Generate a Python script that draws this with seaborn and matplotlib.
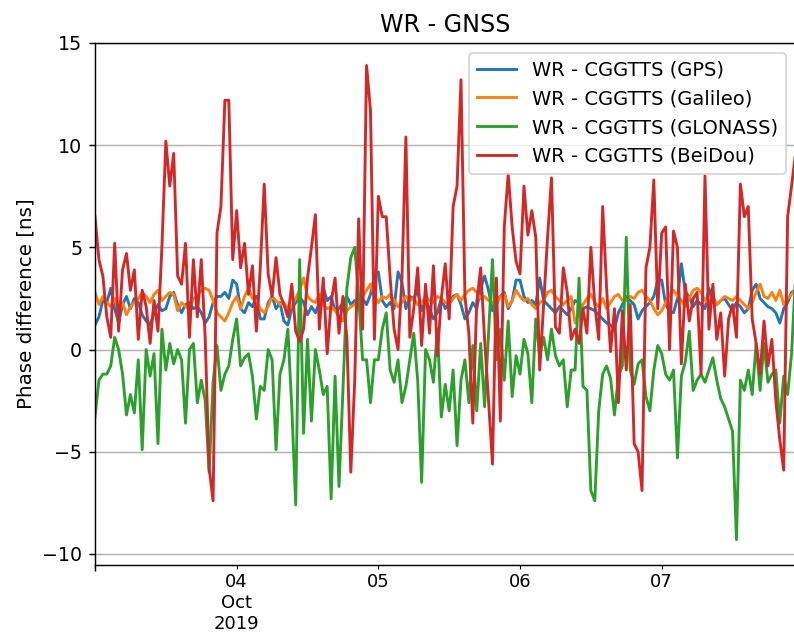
import numpy as np
import pandas as pd
import matplotlib
matplotlib.use("Agg")
import matplotlib.pyplot as plt
import matplotlib.dates as mdates
import seaborn as sns

start = "2019-10-03 00:00"
n_points = 179
step = "40min"

series_names = ["WR - CGGTTS (GPS)", "WR - CGGTTS (Galileo)",
                "WR - CGGTTS (GLONASS)", "WR - CGGTTS (BeiDou)"]
colors = ["#1f77b4", "#ff7f0e", "#2ca02c", "#d62728"]

gps = [1.2,1.6,2.4,2.3,3.0,2.0,1.3,2.2,2.6,2.0,2.5,2.3,1.7,1.4,1.2,1.8,2.2,1.9,2.0,2.6,2.8,2.2,1.8,2.2,2.3,2.0,2.1,1.8,1.3,1.6,2.3,2.6,2.6,2.8,2.5,3.4,
       3.2,2.0,1.8,2.3,2.1,2.6,1.5,1.5,2.3,2.6,2.0,2.3,1.4,1.2,2.0,2.3,2.6,2.3,1.7,2.1,1.8,2.3,3.0,2.4,2.6,1.9,2.0,2.3,2.6,2.2,2.4,2.0,2.5,2.2,2.7,3.6,
       3.8,2.4,2.1,2.3,2.0,3.8,3.3,2.0,2.6,2.5,2.9,1.9,2.4,2.0,1.5,1.8,2.5,2.0,2.3,2.6,2.7,2.2,1.5,1.8,2.3,2.0,3.0,3.6,2.9,1.9,2.4,2.6,2.8,2.0,2.4,3.4,
       3.4,2.6,2.3,2.4,2.2,3.5,2.4,2.2,2.0,1.8,2.1,1.9,1.7,2.0,2.4,2.3,2.0,2.1,2.0,1.9,1.7,1.5,1.3,1.2,1.0,1.8,2.2,2.6,2.4,2.2,1.5,1.9,2.1,2.3,2.6,3.4,
       3.4,2.2,1.9,1.8,2.5,4.2,2.8,2.6,2.1,2.4,2.2,2.0,3.0,2.3,2.2,2.4,2.5,2.2,1.9,2.3,2.1,1.8,2.0,2.9,3.2,2.5,2.3,2.1,2.0,1.8,1.3,2.0,2.3,2.8,2.9]

galileo = [2.8,2.2,2.6,2.3,2.1,2.5,1.9,2.3,1.7,2.1,2.3,2.5,2.8,2.6,2.3,2.7,2.9,2.4,2.6,2.8,2.7,1.9,2.3,2.1,2.0,2.5,2.6,2.9,3.0,2.9,2.4,1.8,1.6,1.4,1.8,2.3,
           2.6,2.0,2.6,3.0,2.5,2.4,2.0,1.8,2.1,2.6,2.4,2.2,2.3,2.0,2.1,2.5,2.9,3.5,2.6,2.4,2.3,2.7,2.2,2.0,2.1,1.9,1.6,1.4,1.9,2.1,2.2,2.5,2.6,2.9,3.2,2.6,
           2.3,2.6,2.5,2.7,2.4,2.1,2.3,2.6,2.4,2.5,2.2,2.3,2.6,2.4,2.3,2.6,2.5,2.3,2.2,2.5,2.7,2.4,2.7,2.9,3.0,2.8,2.5,2.6,2.4,2.3,2.2,2.6,2.7,2.1,2.4,2.9,
           2.6,2.4,2.5,2.2,2.0,2.3,2.4,2.8,2.9,2.6,2.4,2.2,2.4,2.6,1.3,1.8,2.2,2.5,2.7,2.3,2.1,2.5,2.0,2.3,2.6,2.7,2.4,2.4,2.6,2.5,2.8,2.9,2.6,2.4,2.0,1.7,
           1.9,2.3,2.7,2.9,2.6,2.4,2.1,2.5,2.9,3.0,2.8,2.4,2.3,2.6,2.2,2.4,2.6,2.5,2.4,2.6,2.4,2.2,2.0,2.3,2.8,3.2,2.6,2.5,2.8,2.4,2.9,2.2,2.5,2.7,2.9]

glonass = [-3.3,-1.5,-1.2,-1.2,-0.8,0.6,0.0,-1.2,-3.2,-2.2,-3.1,-0.5,-4.9,0.0,-1.3,-0.2,-4.6,1.0,-1.0,0.3,-0.7,0.0,-0.5,-3.6,0.0,0.3,-2.6,-1.5,-2.5,-6.0,-1.6,0.2,-2.0,-1.2,-0.8,0.5,
           1.5,-0.8,-0.4,-0.2,-1.3,-3.4,-1.8,-2.0,0.0,-0.5,-4.9,-1.2,-0.5,1.0,-2.8,-7.6,4.4,-4.1,0.5,-3.5,0.0,-1.0,-2.2,-1.8,-7.3,-1.3,-6.7,-2.0,3.0,4.5,5.0,2.6,-0.5,-0.5,-2.6,-0.5,
           -0.5,1.0,1.8,-1.0,-1.6,-0.5,-2.6,-1.8,-0.5,0.8,-1.5,-6.5,0.0,-0.5,-1.6,1.0,-3.3,-1.7,-3.0,-1.0,-4.7,-1.5,-0.5,-2.6,0.2,-3.0,0.3,-2.8,0.8,4.4,-0.5,1.0,-1.5,1.4,-2.3,-0.3,
           -1.2,0.5,-0.2,-2.6,1.5,-0.3,0.6,-0.5,1.0,-0.3,-0.8,-0.5,-2.8,-1.0,-1.0,3.5,-1.8,-2.0,-6.9,-7.4,-3.0,-1.2,-0.8,-1.4,-3.2,-1.3,-0.8,5.5,-1.0,-1.7,-0.7,-0.5,-2.3,-3.0,-1.0,0.2,
           -0.2,-1.2,-1.5,-1.0,-5.3,-1.3,-0.6,0.9,-2.0,-1.5,-1.2,-1.6,-1.0,-0.4,-1.5,-2.4,-2.8,-3.4,-4.0,-9.3,-1.5,-2.0,-1.0,-2.2,0.3,-2.0,0.3,-1.6,-1.2,-1.0,-3.6,-1.3,-2.2,-0.2,3.6]

beidou = [6.5,4.4,3.6,1.6,0.6,5.2,0.9,3.9,4.7,2.9,3.9,0.5,2.9,2.1,0.3,2.4,0.9,5.0,10.2,8.0,9.6,3.6,3.2,5.2,0.6,4.4,1.6,4.4,0.6,-5.8,-7.4,5.7,7.0,12.2,12.2,4.4,
          6.8,4.0,5.2,2.7,4.1,0.9,4.0,8.1,3.7,2.6,4.5,2.7,2.2,1.6,3.2,0.9,0.4,1.0,3.5,5.0,6.6,1.0,3.5,-0.2,2.3,3.5,0.8,2.6,0.6,-6.0,-1.5,6.4,1.0,13.9,11.7,0.5,
          7.5,6.5,6.5,3.5,1.0,0.0,3.5,10.4,0.6,2.0,4.0,0.2,3.2,0.8,4.1,-0.3,2.5,4.2,1.5,7.0,8.0,13.2,2.6,0.8,-3.6,2.3,4.0,0.5,-2.5,-5.6,3.5,-3.5,6.0,8.6,6.0,4.3,
          3.7,8.0,5.6,6.8,5.5,-1.0,2.2,5.5,8.4,1.1,0.8,4.0,2.8,0.5,1.0,0.3,2.0,0.8,5.0,2.2,0.5,7.0,3.0,-0.1,2.0,-2.6,1.9,-1.0,2.2,-4.6,-5.0,-6.9,4.0,5.0,8.3,2.0,
          5.7,6.0,0.0,5.8,5.0,-0.7,3.2,1.4,2.5,2.8,-1.2,8.5,1.0,3.2,0.5,1.8,-1.3,1.5,2.2,0.6,8.1,6.5,7.0,1.5,0.3,-1.2,1.4,-0.8,0.5,-2.5,-4.4,-5.9,6.5,8.0,9.6]

day_labels = ["04\nOct\n2019", "05", "06", "07"]
day_ticks = ["2019-10-04", "2019-10-05", "2019-10-06", "2019-10-07"]

times = pd.date_range(start, periods=n_points, freq=step)
frames = []
for name, vals in zip(series_names, [gps, galileo, glonass, beidou]):
    frames.append(pd.DataFrame({"time": times, "value": vals, "series": name}))
df = pd.concat(frames, ignore_index=True)

dpi = 130
fig = plt.figure(figsize=(794 / dpi, 636 / dpi), dpi=dpi)
ax = fig.add_axes([95 / 794, 1 - 565 / 636, 700.5 / 794, (565 - 43) / 636])

sns.lineplot(data=df, x="time", y="value", hue="series", palette=colors,
             linewidth=1.6, ax=ax, estimator=None, sort=False)

ax.set_xlim(times[0], times[-1])
ax.set_ylim(-10.54, 15.0)
ax.set_yticks([-10, -5, 0, 5, 10, 15])
ax.grid(axis="y", color="#b0b0b0", linewidth=0.8)
ax.set_axisbelow(True)

ax.xaxis.set_major_locator(mdates.DayLocator(bymonthday=[3]))
ax.xaxis.set_major_formatter(plt.NullFormatter())
ax.set_xticks([pd.Timestamp(d) for d in day_ticks], minor=True)
ax.set_xticklabels(day_labels, minor=True)
ax.tick_params(axis="x", which="minor", labelsize=10, pad=2.5)
ax.tick_params(axis="y", labelsize=10.5)

ax.set_xlabel("")
ax.set_ylabel("Phase difference [ns]", fontsize=11)
ax.set_title("WR - GNSS", fontsize=13.2)

handles, labels = ax.get_legend_handles_labels()
ax.legend(handles, labels, loc="upper right", fontsize=10.8)

fig.savefig("out.png", dpi=dpi)
